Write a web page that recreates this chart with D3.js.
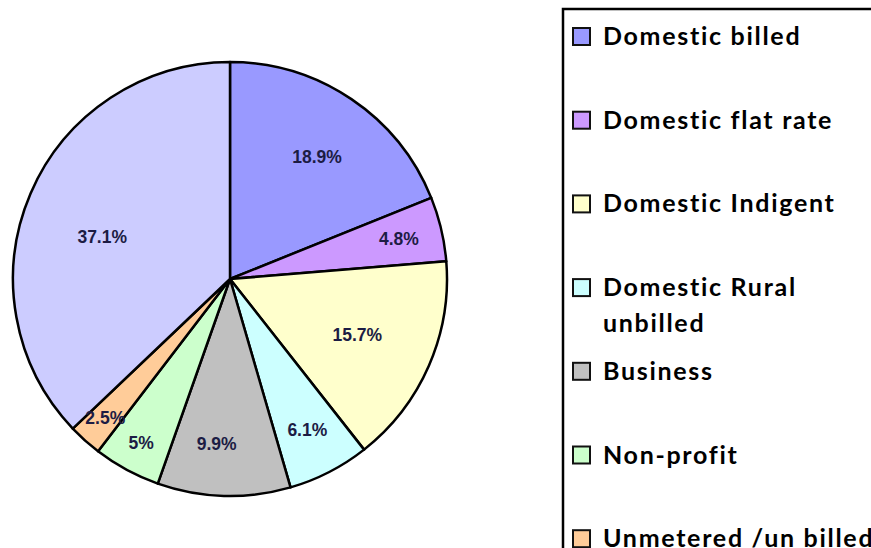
<!DOCTYPE html>
<html>
<head>
<meta charset="utf-8">
<script src="https://cdn.jsdelivr.net/npm/d3@7"></script>
<style>
  html, body { margin: 0; padding: 0; background: #ffffff; }
  svg { display: block; }
</style>
</head>
<body>
<svg id="chart" width="871" height="548"></svg>
<script>
// Water consumption share by customer category (%)
const categories = [
  "Domestic billed",
  "Domestic flat rate",
  "Domestic Indigent",
  "Domestic Rural unbilled",
  "Business",
  "Non-profit",
  "Unmetered /un billed",
  "Other"
];
const shares = [18.9, 4.8, 15.7, 6.1, 9.9, 5, 2.5, 37.1];
const shareLabels = ["18.9%", "4.8%", "15.7%", "6.1%", "9.9%", "5%", "2.5%", "37.1%"];
const sliceColors = ["#9999ff", "#cc99ff", "#ffffcc", "#ccffff", "#c0c0c0", "#ccffcc", "#ffcc99", "#ccccff"];

// Label placement: fraction of the radius and angular nudge (degrees) per slice
const labelRadius = [0.69, 0.80, 0.64, 0.78, 0.76, 0.86, 0.86, 0.62];
const labelNudge  = [1.5, 0, 0, 0, 3, 0, 0, -5];

// Legend lines (the rural entry wraps onto two lines)
const legendLines = [
  ["Domestic billed"],
  ["Domestic flat rate"],
  ["Domestic Indigent"],
  ["Domestic Rural", "unbilled"],
  ["Business"],
  ["Non-profit"],
  ["Unmetered /un billed"],
  ["Other"]
];

const svg = d3.select("#chart");
const cx = 230, cy = 279, R = 217;

const data = categories.map((c, i) => ({
  name: c, value: shares[i], label: shareLabels[i], color: sliceColors[i], idx: i
}));

const pie = d3.pie().value(d => d.value).sort(null);
const arcs = pie(data);
const arc = d3.arc().innerRadius(0).outerRadius(R);

const g = svg.append("g").attr("transform", `translate(${cx},${cy})`);

g.selectAll("path.slice")
  .data(arcs)
  .join("path")
  .attr("class", "slice")
  .attr("d", arc)
  .attr("fill", d => d.data.color)
  .attr("stroke", "#000")
  .attr("stroke-width", 2.5)
  .attr("stroke-linejoin", "round");

g.selectAll("text.pct")
  .data(arcs)
  .join("text")
  .attr("class", "pct")
  .attr("transform", d => {
    const i = d.data.idx;
    const a = (d.startAngle + d.endAngle) / 2 + labelNudge[i] * Math.PI / 180;
    const r = labelRadius[i] * R;
    return `translate(${r * Math.sin(a)},${-r * Math.cos(a)})`;
  })
  .attr("text-anchor", "middle")
  .attr("dy", "0.36em")
  .attr("font-family", "'Liberation Sans', Arial, sans-serif")
  .attr("font-weight", "bold")
  .attr("font-size", 17.5)
  .attr("fill", "#1c1c44")
  .text(d => d.data.label);

// Legend box (extends beyond the visible area)
svg.append("rect")
  .attr("x", 563).attr("y", 9)
  .attr("width", 420).attr("height", 700)
  .attr("fill", "#ffffff")
  .attr("stroke", "#000")
  .attr("stroke-width", 2.5);

const rowStep = 83.7, firstBaseline = 45;
const leg = svg.append("g");
data.forEach((d, i) => {
  const base = firstBaseline + i * rowStep;
  leg.append("rect")
    .attr("x", 573).attr("y", base - 17)
    .attr("width", 17).attr("height", 17)
    .attr("fill", d.color)
    .attr("stroke", "#111")
    .attr("stroke-width", 2);
  const t = leg.append("text")
    .attr("x", 603).attr("y", base)
    .attr("font-family", "Lato, 'Open Sans', sans-serif")
    .attr("font-weight", "bold")
    .attr("font-size", 25)
    .attr("letter-spacing", 1.7)
    .attr("fill", "#000");
  legendLines[i].forEach((line, j) => {
    t.append("tspan").attr("x", 603).attr("y", base + j * 36).text(line);
  });
});
</script>
</body>
</html>
